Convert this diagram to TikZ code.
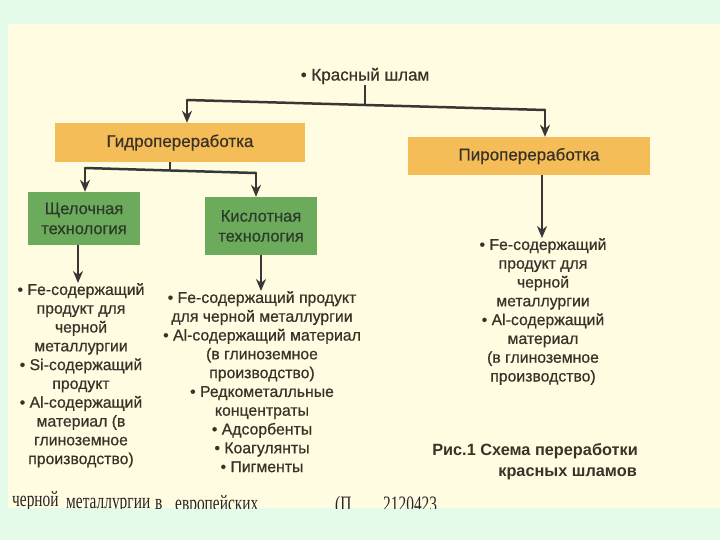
\documentclass[tikz,border=0pt]{standalone}
\usepackage{fontspec}
\setmainfont{Liberation Sans}[FakeBold=0.6]
\newfontfamily\capfont{Liberation Sans}
\newfontfamily\serifbook{Liberation Serif}[FakeStretch=0.7]
\usetikzlibrary{arrows.meta}
\definecolor{bggreen}{HTML}{E4FBEA}
\definecolor{pagecol}{HTML}{FFFCE1}
\definecolor{orangefill}{HTML}{F4BD58}
\definecolor{greenfill}{HTML}{6CAB5C}
\definecolor{ink}{HTML}{3A3128}
\definecolor{greenink}{HTML}{2C3A2A}
\definecolor{linec}{HTML}{383735}
\begin{document}
\begin{tikzpicture}[x=1pt,y=-1pt,
  font=\fontsize{15.8}{18.8}\selectfont,
  obox/.style={fill=orangefill, text=ink, inner sep=0pt, font=\fontsize{17}{19}\selectfont},
  gbox/.style={fill=greenfill, text=greenink, inner sep=0pt, align=center,
    font=\fontsize{16.5}{20}\selectfont},
  listtext/.style={align=center, inner sep=0pt, text=ink},
  captext/.style={text=ink, inner sep=0pt, anchor=base east, font=\capfont\bfseries\fontsize{16.3}{18}\selectfont},
  foottext/.style={text=black!85, inner sep=0pt, anchor=base west, font=\serifbook\fontsize{22}{24}\selectfont},
  conn/.style={draw=linec, line width=2.5pt},
  arr/.style={draw=linec, line width=2.5pt, -{Stealth[length=12pt,width=10pt]}}]
\fill[bggreen] (0,0) rectangle (720,540);
\fill[pagecol] (8,24) rectangle (720,508);
\useasboundingbox (0,0) rectangle (720,540);

\node[text=ink, inner sep=1pt, font=\fontsize{17}{19}\selectfont] (root) at (365,76) {• Красный шлам};
\node[obox, minimum width=250pt, minimum height=39pt] (hydro) at (180,142.5) {Гидропереработка};
\node[obox, minimum width=242pt, minimum height=38pt] (pyro) at (529,156) {Пиропереработка};
\node[gbox, minimum width=112pt, minimum height=53pt] (alk) at (84,218.5) {Щелочная\\технология};
\node[gbox, minimum width=112pt, minimum height=58pt] (acid) at (261,226) {Кислотная\\технология};

\node[listtext, anchor=north] (l1) at (81,283) {• Fe-содержащий\\продукт для\\черной\\металлургии\\• Si-содержащий\\продукт\\• Al-содержащий\\материал (в\\глиноземное\\производство)};
\node[listtext, anchor=north] (l2) at (262,291) {• Fe-содержащий продукт\\для черной металлургии\\• Al-содержащий материал\\(в глиноземное\\производство)\\• Редкометалльные\\концентраты\\• Адсорбенты\\• Коагулянты\\• Пигменты};
\node[listtext, anchor=north] (l3) at (543,238) {• Fe-содержащий\\продукт для\\черной\\металлургии\\• Al-содержащий\\материал\\(в глиноземное\\производство)};

\node[captext] (cap1) at (638,455) {Рис.1 Схема переработки};
\node[captext] (cap2) at (637,476) {красных шламов};

\begin{scope}
\clip (8,24) rectangle (720,508);
\node[foottext] (f1) at (12,506) {черной};
\node[foottext] (f2) at (66,508) {металлургии};
\node[foottext] (f3) at (155,509.5) {в};
\node[foottext] (f4) at (175,510.5) {европейских};
\node[foottext] (f5) at (335,511) {(П};
\node[foottext] (f6) at (383,511.5) {2120423};
\node[foottext] (f7) at (453,512) {. .};
\end{scope}

\coordinate (jl) at (187,100);
\coordinate (j1) at (365,105);
\coordinate (jr) at (545,110);
\coordinate (kl) at (85,168);
\coordinate (k1) at (170,170.5);
\coordinate (kr) at (256,173);
\draw[conn] (root.south) -- (j1);
\draw[conn, line cap=round] (jl) -- (jr);
\draw[arr] (jl) -- (jl |- hydro.north);
\draw[arr] (jr) -- (jr |- pyro.north);
\draw[conn] (hydro.south -| k1) -- (k1);
\draw[conn, line cap=round] (kl) -- (kr);
\draw[arr] (kl) -- (kl |- alk.north);
\draw[arr] (kr) -- (kr |- acid.north);
\draw[arr] ([xshift=-6pt]alk.south) -- ([xshift=-6pt]alk.south |- l1.north);
\draw[arr] (acid.south) -- (acid.south |- l2.north);
\draw[arr] ([xshift=13pt]pyro.south) -- ([xshift=13pt]pyro.south |- l3.north);
\end{tikzpicture}
\end{document}
